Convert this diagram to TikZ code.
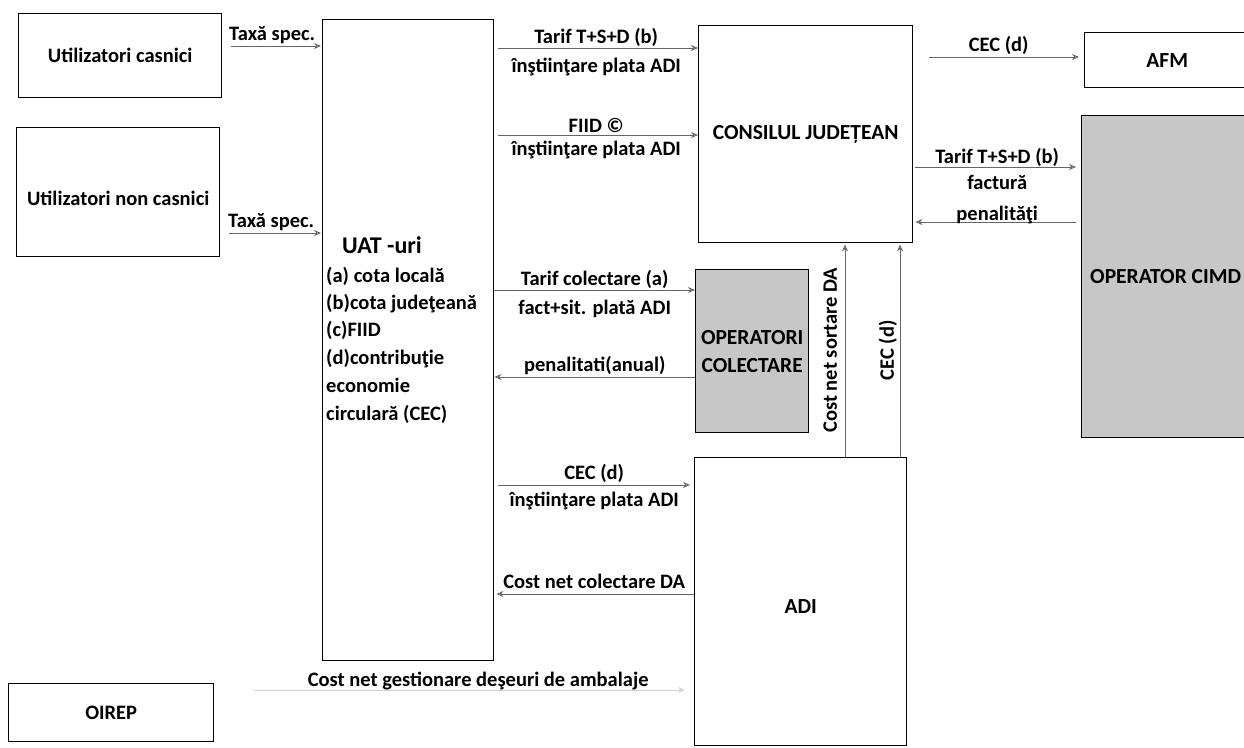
\documentclass[tikz,border=0pt]{standalone}
\usepackage{fontspec}
\setmainfont{Carlito}
\usetikzlibrary{arrows.meta,calc}
\newcommand\myfs{\fontsize{20.5}{25}\selectfont\bfseries}
\newcommand\myfsb{\fontsize{21.5}{28}\selectfont\bfseries}
\newcommand\myuat{\fontsize{24}{28}\selectfont\bfseries}
\begin{document}
\begin{tikzpicture}[x=1pt,y=-1pt,
  box/.style={draw=black,line width=1.4pt,rectangle,inner sep=0pt,anchor=north west,font=\myfs,align=center},
  tbox/.style={box,font=\myfsb},
  shbox/.style={tbox,fill=black!22},
  arr/.style={draw=black!60,line width=0.9pt,-{Stealth[open,length=7pt,width=6pt]}},
  faint/.style={arr,draw=black!18},
  lbl/.style={font=\myfs,inner sep=1.5pt,text=black},
  lst/.style={font=\myfs,inner sep=0pt,anchor=base west},
]
\fill[white] (0,0) rectangle (1244,747);
\useasboundingbox (0,0) rectangle (1244,747);

% boxes
\node[box,minimum width=203pt,minimum height=84pt] (uc) at (18,13) {Utilizatori casnici};
\node[box,minimum width=203pt,minimum height=129pt] (unc) at (16,127) {};
\node[lbl] (unct) at ($(unc.center)+(0,6)$) {Utilizatori non casnici};
\node[box,minimum width=171pt,minimum height=641pt] (uat) at (322,19) {};
\node[tbox,minimum width=214pt,minimum height=217pt] (cj) at (698,25) {CONSILUL JUDEȚEAN};
\node[tbox,minimum width=165pt,minimum height=55pt] (afm) at (1084,32) {AFM};
\node[shbox,minimum width=168pt,minimum height=322pt] (cimd) at (1081,115) {OPERATOR CIMD};
\node[shbox,minimum width=113pt,minimum height=163pt] (oc) at (695,269) {OPERATORI\\COLECTARE};
\node[box,minimum width=212pt,minimum height=288pt] (adi) at (694,457) {};
\node[lbl,font=\myfsb] (adit) at ($(adi.center)+(0,5)$) {ADI};
\node[box,minimum width=205pt,minimum height=58pt] (oirep) at (8,683) {OIREP};

% UAT texts
\node[lst,font=\myuat] (uatt) at (342,253) {UAT -uri};
\node[lst] (u1) at (326,282) {(a) cota locală};
\node[lst] (u2) at (326,309) {(b)cota judeţeană};
\node[lst] (u3) at (326,336) {(c)FIID};
\node[lst] (u4) at (326,364) {(d)contribuţie};
\node[lst] (u5) at (326,392) {economie};
\node[lst] (u6) at (326,420) {circulară (CEC)};

% levels
\coordinate (ya) at (0,46);
\coordinate (yb) at (0,233);
\coordinate (yc) at (0,48);
\coordinate (yd) at (0,135);
\coordinate (ye) at (0,57);
\coordinate (yf) at (0,167);
\coordinate (yg) at (0,222);
\coordinate (yh) at (0,290);
\coordinate (yi) at (0,377);
\coordinate (yj) at (0,485);
\coordinate (yk) at (0,594);
\coordinate (yl) at (0,690);
\coordinate (xa) at (845,0);
\coordinate (xb) at (900,0);

% connectors
\draw[arr,shorten <=9pt,shorten >=1pt] (uc.east |- ya) -- (uat.west |- ya)
  node[lbl,midway,above] (l1) {Taxă spec.};
\draw[arr,shorten <=9pt,shorten >=1pt] (unc.east |- yb) -- (uat.west |- yb)
  node[lbl,midway,above] (l2) {Taxă spec.};
\draw[arr,shorten <=4pt] (uat.east |- yc) -- (cj.west |- yc)
  node[lbl,midway,above=-1pt] (l3) {Tarif T+S+D (b)}
  node[lbl,midway,below=8pt] (l4) {înştiinţare plata ADI};
\draw[arr,shorten <=4pt] (uat.east |- yd) -- (cj.west |- yd)
  node[lbl,midway,above] (l5) {FIID ©}
  node[lbl,midway,below=4pt] (l6) {înştiinţare plata ADI};
\draw[arr,shorten <=16pt,shorten >=5pt] (cj.east |- ye) -- (afm.west |- ye)
  node[lbl,midway,above] (l7) {CEC (d)};
\draw[arr,shorten <=2pt,shorten >=5pt] (cj.east |- yf) -- (cimd.west |- yf)
  node[lbl,midway,above=-2pt] (l8) {Tarif T+S+D (b)}
  node[lbl,midway,below=6pt] (l9) {factură};
\draw[arr,shorten <=5pt,shorten >=2pt] (cimd.west |- yg) -- (cj.east |- yg)
  node[lbl,midway,above=-4pt] (l10) {penalităţi};
\draw[arr] (uat.east |- yh) -- (oc.west |- yh)
  node[lbl,midway,above=-1pt] (l11) {Tarif colectare (a)}
  node[lbl,midway,below=8pt] (l12) {fact+sit. plată ADI};
\draw[arr] (oc.west |- yi) -- (uat.east |- yi)
  node[lbl,midway,above] (l13) {penalitati(anual)};
\draw[arr,shorten <=4pt,shorten >=4pt] (uat.east |- yj) -- (adi.west |- yj)
  node[lbl,midway,above] (l14) {CEC (d)}
  node[lbl,midway,below=5pt] (l15) {înştiinţare plata ADI};
\draw[arr,shorten >=2pt] (adi.west |- yk) -- (uat.east |- yk)
  node[lbl,midway,above=3pt] (l16) {Cost net colectare DA};
\draw[faint,shorten <=40pt,shorten >=9pt] (oirep.east |- yl) -- (adi.west |- yl)
  node[lbl,pos=0.55,above=-2pt] (l17) {Cost net gestionare deşeuri de ambalaje};
\draw[arr,shorten >=1pt] (adi.north -| xa) -- (cj.south -| xa)
  node[lbl,midway,sloped,above=6pt] (l18) {Cost net sortare DA};
\draw[arr,shorten >=1pt] (adi.north -| xb) -- (cj.south -| xb)
  node[lbl,midway,sloped,above=1pt] (l19) {CEC (d)};
\end{tikzpicture}
\end{document}
